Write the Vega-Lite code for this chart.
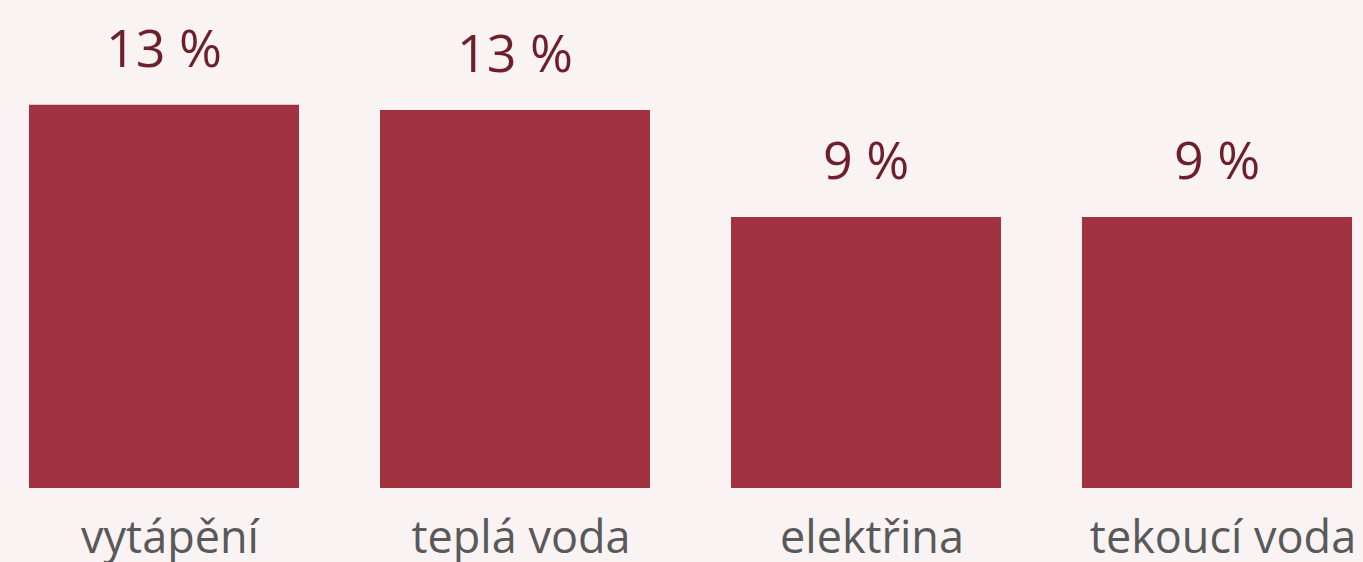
{
  "$schema": "https://vega.github.io/schema/vega-lite/v6.json",
  "width": 1363,
  "height": 488,
  "autosize": {"type": "none"},
  "padding": {"left": 0, "top": 0, "right": 0, "bottom": 74},
  "background": "#f9f3f3",
  "config": {"view": {"stroke": null}, "font": "Open Sans"},
  "data": {"values": [
    {"kategorie": "vytápění", "podil": 12.72, "popisek": "13 %"},
    {"kategorie": "teplá voda", "podil": 12.55, "popisek": "13 %"},
    {"kategorie": "elektřina", "podil": 9.0, "popisek": "9 %"},
    {"kategorie": "tekoucí voda", "podil": 9.0, "popisek": "9 %"}
  ]},
  "encoding": {
    "x": {"field": "kategorie", "type": "nominal", "sort": null,
      "scale": {"paddingInner": 0.2308, "paddingOuter": 0.057, "align": 0.725},
      "axis": {"title": null, "domain": false, "ticks": false, "labelAngle": 0,
        "labelFontSize": 45, "labelColor": "#595959", "labelBaseline": "alphabetic",
        "labelPadding": 64, "labelOffset": 6, "labelFont": "Open Sans", "labelLimit": 0, "labelOverlap": false}},
    "y": {"field": "podil", "type": "quantitative", "scale": {"domain": [0, 16.2]}, "axis": null}
  },
  "layer": [
    {"mark": {"type": "bar", "color": "#a0333f"}},
    {"mark": {"type": "text", "baseline": "alphabetic", "dy": -38, "fontSize": 52, "color": "#6f1f2a", "font": "Open Sans"},
     "encoding": {"text": {"field": "popisek"}}}
  ]
}
